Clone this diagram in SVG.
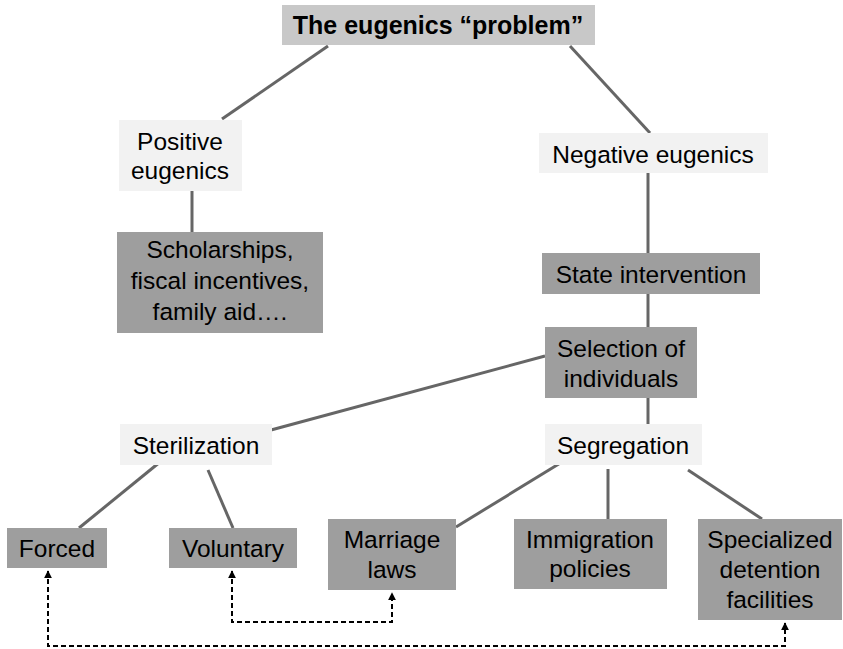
<svg xmlns="http://www.w3.org/2000/svg" width="843" height="649" viewBox="0 0 843 649">
<defs>
<style>
text{font-family:"Liberation Sans",Arial,sans-serif;font-size:24.5px;fill:#000;text-anchor:middle}
.title{font-weight:bold;font-size:25px}
.top{fill:#c8c8c8}
.light{fill:#f2f2f2}
.dark{fill:#9e9e9e}
.ln{stroke:#666;stroke-width:3;fill:none}
.dash{stroke:#000;stroke-width:2;fill:none;stroke-dasharray:5,3}
</style>
<marker id="ah" viewBox="0 0 10 10" refX="9" refY="5" markerWidth="4" markerHeight="4" orient="auto-start-reverse" markerUnits="strokeWidth">
<path d="M0,0 L10,5 L0,10 z" fill="#000"/>
</marker>
</defs>
<rect width="843" height="649" fill="#fff"/>
<g id="connectors">
<line class="ln" x1="328" y1="46" x2="222" y2="119"/>
<line class="ln" x1="570" y1="46" x2="650" y2="133"/>
<line class="ln" x1="192" y1="191" x2="192" y2="232"/>
<line class="ln" x1="648" y1="173" x2="648" y2="253"/>
<line class="ln" x1="648" y1="294" x2="648" y2="327"/>
<line class="ln" x1="648" y1="398" x2="648" y2="424"/>
<line class="ln" x1="545" y1="356" x2="271" y2="430"/>
<line class="ln" x1="160" y1="462" x2="79" y2="528"/>
<line class="ln" x1="208" y1="470" x2="233" y2="528"/>
<line class="ln" x1="562" y1="462" x2="456" y2="527"/>
<line class="ln" x1="608" y1="469" x2="608" y2="519"/>
<line class="ln" x1="688" y1="470" x2="762" y2="519"/>
<path class="dash" d="M232,571 V622 H392 V593" marker-start="url(#ah)" marker-end="url(#ah)"/>
<path class="dash" d="M48,571 V646 H785 V623" marker-start="url(#ah)" marker-end="url(#ah)"/>
</g>
<g id="n-title"><rect class="top" x="282" y="5" width="313" height="40"/><text class="title" x="438" y="34">The eugenics “problem”</text></g>
<g id="n-positive"><rect class="light" x="119" y="120" width="123" height="71"/><text x="180" y="150">Positive</text><text x="180" y="179">eugenics</text></g>
<g id="n-scholarships"><rect class="dark" x="117" y="232" width="206" height="101"/><text x="220" y="258">Scholarships,</text><text x="220" y="289">fiscal incentives,</text><text x="220" y="320">family aid….</text></g>
<g id="n-negative"><rect class="light" x="539" y="133" width="229" height="40"/><text x="653" y="163">Negative eugenics</text></g>
<g id="n-state"><rect class="dark" x="542" y="253" width="218" height="41"/><text x="651" y="283">State intervention</text></g>
<g id="n-selection"><rect class="dark" x="545" y="327" width="152" height="71"/><text x="621" y="357">Selection of</text><text x="621" y="387">individuals</text></g>
<g id="n-sterilization"><rect class="light" x="120" y="424" width="152" height="41"/><text x="196" y="454">Sterilization</text></g>
<g id="n-segregation"><rect class="light" x="545" y="424" width="157" height="41"/><text x="623" y="454">Segregation</text></g>
<g id="n-forced"><rect class="dark" x="7" y="528" width="100" height="40"/><text x="57" y="557">Forced</text></g>
<g id="n-voluntary"><rect class="dark" x="169" y="528" width="128" height="40"/><text x="233" y="557">Voluntary</text></g>
<g id="n-marriage"><rect class="dark" x="328" y="519" width="128" height="71"/><text x="392" y="548">Marriage</text><text x="392" y="578">laws</text></g>
<g id="n-immigration"><rect class="dark" x="514" y="519" width="153" height="70"/><text x="590" y="548">Immigration</text><text x="590" y="577">policies</text></g>
<g id="n-specialized"><rect class="dark" x="698" y="519" width="144" height="101"/><text x="770" y="548">Specialized</text><text x="770" y="578">detention</text><text x="770" y="608">facilities</text></g>
</svg>
